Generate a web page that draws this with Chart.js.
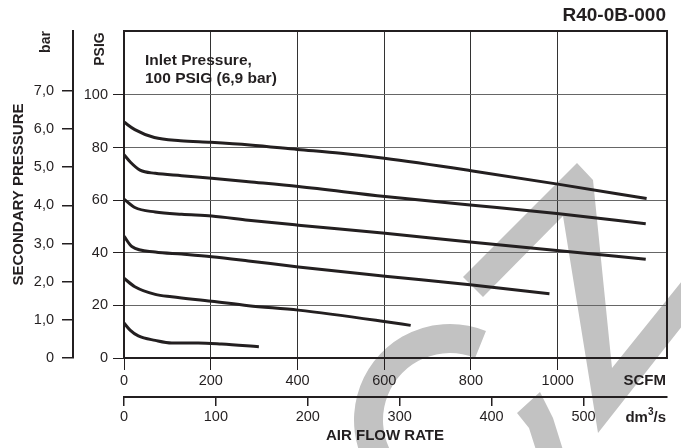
<!DOCTYPE html>
<html>
<head>
<meta charset="utf-8">
<script src="https://cdn.jsdelivr.net/npm/chart.js@4.4.1/dist/chart.umd.min.js"></script>
<style>
    html, body { margin: 0; padding: 0; background: #fff; }
    #wrap { width: 681px; height: 448px; }
</style>
</head>
<body>
<div id="wrap"><canvas id="chart" width="681" height="448"></canvas></div>
<script>
const FONT = '"Liberation Sans", Arial, Helvetica, sans-serif';
const INK = '#231f20';

// secondary pressure curves: flow in SCFM, pressure in PSIG
const flowA = [0, 25, 70, 130, 200, 290, 400, 500, 600, 800, 1000, 1205];
const psigA = [89.7, 86.8, 83.8, 82.6, 82.0, 81.0, 79.3, 77.8, 75.9, 71.2, 66.1, 60.6];

const flowB = [0, 15, 37, 72, 133, 202, 287, 402, 602, 798, 998, 1203];
const psigB = [77.3, 74.4, 71.4, 70.2, 69.3, 68.3, 67.0, 65.2, 61.4, 58.2, 54.9, 51.0];

const flowC = [0, 25, 72, 133, 202, 287, 402, 602, 798, 998, 1203];
const psigC = [60.4, 57.2, 55.5, 54.6, 54.0, 52.4, 50.5, 47.4, 44.1, 40.9, 37.5];

const flowD = [0, 18, 72, 133, 202, 287, 402, 602, 798, 981];
const psigD = [46.3, 42.4, 40.3, 39.5, 38.5, 36.9, 34.6, 31.1, 27.8, 24.4];

const flowE = [0, 25, 72, 110, 202, 287, 402, 600, 661];
const psigE = [30.3, 27.1, 24.2, 23.3, 21.6, 19.9, 18.2, 13.9, 12.4];

const flowF = [0, 14, 33, 72, 110, 171, 225, 311];
const psigF = [13.3, 10.6, 8.4, 6.7, 5.7, 5.7, 5.3, 4.3];

// axes
const scfmTicks = [0, 200, 400, 600, 800, 1000];
const dm3Ticks = [0, 100, 200, 300, 400, 500];
const psigTicks = [0, 20, 40, 60, 80, 100];
const barTicks = [0, 1, 2, 3, 4, 5, 6, 7];
const scfmMax = 1252;
const psigMax = 124.3;
const SCFM_PER_DM3 = 2.11888;
const PSI_PER_BAR = 14.5038;

const curves = [
    [flowA, psigA], [flowB, psigB], [flowC, psigC],
    [flowD, psigD], [flowE, psigE], [flowF, psigF],
];

const datasets = curves.map(([fx, py]) => ({
    data: fx.map((x, i) => ({ x: x, y: py[i] })),
    borderColor: INK,
    borderWidth: 3,
    pointRadius: 0,
    fill: false,
    cubicInterpolationMode: 'monotone',
    xAxisID: 'x',
    yAxisID: 'y',
}));

const fixTicks = (list) => (scale) => {
    scale.ticks = list.map(v => ({ value: v }));
};

const plain = v => String(v);
const tickFont = { family: FONT, size: 14.5 };

// grey logo watermark behind the plot
const watermark = {
    id: 'watermark',
    beforeDraw(chart) {
        const ctx = chart.ctx;
        const rad = d => d * Math.PI / 180;
        ctx.save();
        ctx.fillStyle = '#c2c2c2';
        ctx.beginPath();
        ctx.arc(450, 420, 96, rad(150), rad(292));
        ctx.arc(450, 420, 67, rad(292), rad(150), true);
        ctx.closePath();
        ctx.fill();

        ctx.beginPath();
        ctx.moveTo(463, 277);
        ctx.lineTo(577, 163);
        ctx.lineTo(593, 180);
        ctx.lineTo(612, 368);
        ctx.lineTo(690, 271);
        ctx.lineTo(690, 316);
        ctx.lineTo(598, 433);
        ctx.lineTo(563, 216);
        ctx.lineTo(483, 297);
        ctx.closePath();
        ctx.fill();

        ctx.beginPath();
        ctx.moveTo(517, 413);
        ctx.lineTo(540, 392);
        ctx.lineTo(553, 418);
        ctx.lineTo(563, 450);
        ctx.lineTo(536, 450);
        ctx.lineTo(529, 428);
        ctx.closePath();
        ctx.fill();
        ctx.restore();
    },
};

// frame and loose labels
const labels = {
    id: 'labels',
    afterDraw(chart) {
        const { ctx, chartArea: a } = chart;
        ctx.save();
        ctx.strokeStyle = INK;
        ctx.lineWidth = 2;
        ctx.beginPath();
        ctx.moveTo(a.left, a.top);
        ctx.lineTo(a.right, a.top);
        ctx.lineTo(a.right, a.bottom);
        ctx.stroke();

        ctx.fillStyle = INK;
        ctx.textBaseline = 'alphabetic';

        ctx.font = `bold 19px ${FONT}`;
        ctx.textAlign = 'right';
        ctx.fillText('R40-0B-000', 666, 21);

        ctx.font = `bold 15.5px ${FONT}`;
        ctx.textAlign = 'left';
        ctx.fillText('Inlet Pressure,', 145, 65);
        ctx.fillText('100 PSIG (6,9 bar)', 145, 83);

        ctx.font = `bold 15px ${FONT}`;
        ctx.textAlign = 'right';
        ctx.textBaseline = 'middle';
        ctx.fillText('SCFM', 666, 381);

        // dm3/s with a raised 3
        ctx.textBaseline = 'alphabetic';
        ctx.textAlign = 'left';
        const big = `bold 15px ${FONT}`, small = `bold 10px ${FONT}`;
        ctx.font = big;
        const w1 = ctx.measureText('dm').width, w3 = ctx.measureText('/s').width;
        ctx.font = small;
        const w2 = ctx.measureText('3').width;
        let x = 666 - w1 - w2 - w3;
        ctx.font = big;
        ctx.fillText('dm', x, 422);
        ctx.font = small;
        ctx.fillText('3', x + w1, 415);
        ctx.font = big;
        ctx.fillText('/s', x + w1 + w2, 422);

        ctx.font = `bold 15px ${FONT}`;
        ctx.textAlign = 'center';
        ctx.textBaseline = 'middle';
        ctx.fillText('AIR FLOW RATE', 385, 436);

        ctx.font = `bold 14px ${FONT}`;
        ctx.save();
        ctx.translate(46, 42);
        ctx.rotate(-Math.PI / 2);
        ctx.fillText('bar', 0, 0);
        ctx.restore();
        ctx.save();
        ctx.translate(100, 49);
        ctx.rotate(-Math.PI / 2);
        ctx.fillText('PSIG', 0, 0);
        ctx.restore();

        ctx.restore();
    },
};

new Chart(document.getElementById('chart'), {
    type: 'line',
    data: { datasets: datasets },
    plugins: [watermark, labels],
    options: {
        responsive: false,
        animation: false,
        events: [],
        layout: { padding: { top: 31, right: 14, bottom: 0, left: 0 } },
        plugins: {
            legend: { display: false },
            tooltip: { enabled: false },
        },
        scales: {
            x: {
                type: 'linear',
                position: 'bottom',
                weight: 0,
                min: 0,
                max: scfmMax,
                afterBuildTicks: fixTicks(scfmTicks),
                afterFit: (s) => { s.height = 39; },
                grid: { color: '#333', lineWidth: 1, tickLength: 12, tickColor: INK },
                border: { display: true, color: INK, width: 2 },
                ticks: { font: tickFont, color: INK, padding: 2, maxRotation: 0, autoSkip: false, callback: plain },
            },
            x2: {
                type: 'linear',
                position: 'bottom',
                weight: 1,
                min: 0,
                max: scfmMax / SCFM_PER_DM3,
                afterBuildTicks: fixTicks(dm3Ticks),
                afterFit: (s) => { s.height = 51; },
                grid: { drawOnChartArea: false, tickLength: 9, color: INK, lineWidth: 1.5 },
                border: { display: true, color: INK, width: 2 },
                ticks: { font: tickFont, color: INK, padding: 2, maxRotation: 0, autoSkip: false, callback: plain },
            },
            y: {
                type: 'linear',
                position: 'left',
                weight: 0,
                min: 0,
                max: psigMax,
                afterBuildTicks: fixTicks(psigTicks),
                afterFit: (s) => { s.width = 51; },
                grid: { color: '#666', lineWidth: 1, tickLength: 11, tickColor: INK },
                border: { display: true, color: INK, width: 2 },
                ticks: { font: tickFont, color: INK, padding: 5, callback: plain },
            },
            bar: {
                type: 'linear',
                position: 'left',
                weight: 1,
                min: 0,
                max: psigMax / PSI_PER_BAR,
                afterBuildTicks: fixTicks(barTicks),
                afterFit: (s) => { s.width = 73; },
                grid: { drawOnChartArea: false, tickLength: 11, color: INK, lineWidth: 1.5 },
                border: { display: true, color: INK, width: 2 },
                ticks: {
                    font: tickFont,
                    color: INK,
                    padding: 8,
                    callback: v => v === 0 ? '0' : v.toFixed(1).replace('.', ','),
                },
                title: {
                    display: true,
                    text: 'SECONDARY PRESSURE',
                    color: INK,
                    font: { family: FONT, size: 15, weight: 'bold' },
                    padding: { top: 10, bottom: 0 },
                },
            },
        },
    },
});
</script>
</body>
</html>
